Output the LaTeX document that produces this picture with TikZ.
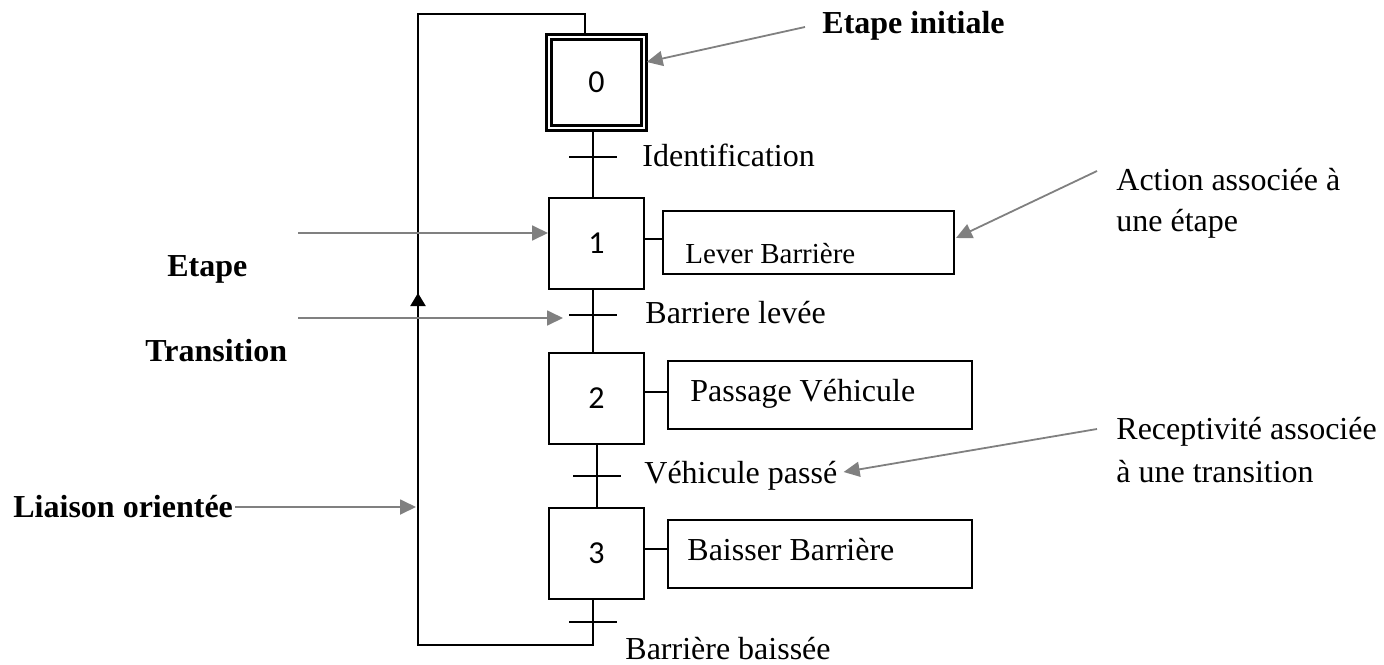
\documentclass[tikz,border=0pt]{standalone}
\usepackage{fontspec}
\setmainfont{Liberation Serif}
\newfontfamily\stepfont{Carlito}
\usetikzlibrary{arrows.meta,calc}
\definecolor{notegray}{RGB}{128,128,128}
\begin{document}
\begin{tikzpicture}[x=0.5pt,y=-0.5pt,
  stepbox/.style={draw,line width=1pt,minimum width=47.5pt,minimum height=45.5pt,
    inner sep=0pt,font=\stepfont\fontsize{16}{19}\selectfont},
  initstep/.style={stepbox,double,line width=1.2pt,double distance=1.2pt},
  actbox/.style={draw,line width=1pt,inner sep=0pt},
  txt/.style={inner sep=0pt,anchor=base west,font=\fontsize{16}{19}\selectfont},
  boldtxt/.style={txt,font=\fontsize{16}{19}\selectfont\bfseries},
  flow/.style={line width=1pt},
  note/.style={draw=notegray,line width=0.9pt,-{Triangle[length=8pt,width=7.5pt]}},
  uptip/.style={flow,-{Triangle[length=6.5pt,width=7.5pt]}}
]
\useasboundingbox (0,0) rectangle (1384,664);

% steps
\node[initstep] (s0) at (596.5,82.5) {0};
\node[stepbox] (s1) at (596.5,243.5) {1};
\node[stepbox] (s2) at (596.5,398.5) {2};
\node[stepbox] (s3) at (596.5,553.5) {3};

% actions
\node[actbox,minimum width=145.5pt,minimum height=31.5pt] (a1) at (808.5,242.5) {};
\node[actbox,minimum width=152pt,minimum height=34pt] (a2) at (820,395) {};
\node[actbox,minimum width=152pt,minimum height=34pt] (a3) at (820,554) {};
\node[txt,font=\fontsize{14.5}{17}\selectfont] (a1t) at (685,263) {Lever Barrière};
\node[txt] (a2t) at (690,401) {Passage Véhicule};
\node[txt] (a3t) at (687,560) {Baisser Barrière};

% transitions
\coordinate (t1) at (593,157);
\coordinate (t2) at (593,315);
\coordinate (t3) at (597,476);
\coordinate (t4) at (593,622);

\draw[flow] (s0.south -| t1) -- (s1.north -| t1);
\draw[flow] (s1.south -| t2) -- (s2.north -| t2);
\draw[flow] (s2.south -| t3) -- (s3.north -| t3);
\foreach \t in {t1,t2,t3,t4}
  \draw[flow] ($(\t)+(-24,0)$) -- ($(\t)+(24,0)$);

% return link
\coordinate (lbr) at (593,645);
\coordinate (lbl) at (418,645);
\coordinate (ltl) at (418,14);
\coordinate (ltr) at (585,14);
\coordinate (up) at (418,293);
\draw[flow] (s3.south -| t4) -- (lbr) -- (lbl) -- (ltl) -- (ltr) -- (s0.north -| ltr);
\draw[uptip] ($(up)+(0,30)$) -- (up);

% action links
\draw[flow] ($(s1.east)+(0,-4.5)$) -- ($(a1.west)+(0,-3.5)$);
\draw[flow] ($(s2.east)+(0,-6.5)$) -- ($(a2.west)+(0,-3)$);
\draw[flow] ($(s3.east)+(0,-4.5)$) -- ($(a3.west)+(0,-5)$);

% receptivities
\node[txt] (r1) at (642,166) {Identification};
\node[txt] (r2) at (645,323) {Barriere levée};
\node[txt] (r3) at (644,483) {Véhicule passé};
\node[txt] (r4) at (625,659) {Barrière baissée};

% annotations
\node[boldtxt] (n0) at (822,33) {Etape initiale};
\node[boldtxt] (n1) at (167,276) {Etape};
\node[boldtxt] (n2) at (145,361) {Transition};
\node[boldtxt] (n3) at (13,517) {Liaison orientée};
\node[txt,align=left,font=\fontsize{16}{20.5}\selectfont] (n4) at (1116,231) {Action associée à\\une étape};
\node[txt,align=left,font=\fontsize{16}{21.5}\selectfont] (n5) at (1116,482) {Receptivité associée\\à une transition};

\coordinate (k0) at (805,27);
\coordinate (k1) at (298,233);
\coordinate (k2) at (298,318);
\coordinate (k3) at (416,507);
\coordinate (k4) at (1097,171);
\coordinate (k5) at (1097,429);
\draw[note] (k0) -- ($(s0.east)+(1.5,-20.5)$);
\draw[note] (k1) -- ($(s1.west)+(0,-10.5)$);
\draw[note] (k2) -- ($(t2)+(-30,3)$);
\draw[note] ($(n3.base east)+(2,-10)$) -- (k3);
\draw[note] (k4) -- ($(a1.east)+(1,-4.5)$);
\draw[note] (k5) -- ($(r3.base east)+(6,-11)$);
\end{tikzpicture}
\end{document}
